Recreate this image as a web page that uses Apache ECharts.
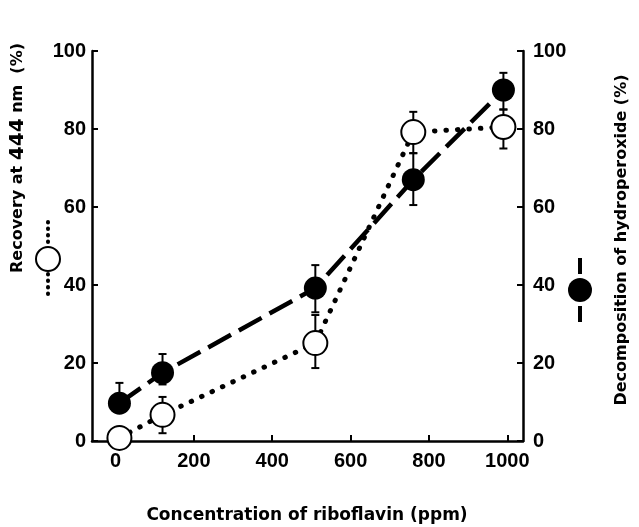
<!DOCTYPE html>
<html>
<head>
<meta charset="utf-8">
<script src="https://cdn.jsdelivr.net/npm/echarts@6/dist/echarts.min.js"></script>
<style>
  html, body { margin: 0; padding: 0; background: #fff; }
  #chart { width: 639px; height: 527px; }
</style>
</head>
<body>
<div id="chart"></div>
<script>
// riboflavin concentration (ppm)
var conc = [10, 120, 510, 760, 990];
// decomposition of hydroperoxide (%), filled circles, right axis
var hydro     = [9.7, 17.5, 39.2, 67.0, 90.0];
var hydroLow  = [9.7, 14.5, 33.0, 60.5, 85.0];
var hydroHigh = [14.9, 22.3, 45.1, 73.8, 94.4];
// recovery at 444 nm (%), open circles, left axis
var recovery = [0.8, 6.7, 25.1, 79.2, 80.5];
var recLow   = [0.8, 2.0, 18.7, 73.8, 75.0];
var recHigh  = [0.8, 11.3, 32.3, 84.4, 85.0];

var xTicks = [0, 200, 400, 600, 800, 1000];
var yTicks = [0, 20, 40, 60, 80, 100];

var tickFont = { color: '#000', fontSize: 20, fontWeight: 'bold', fontFamily: 'Liberation Sans',
                 formatter: function (v) { return String(v); } };

function pairs(xs, ys) {
    return xs.map(function (x, i) { return [x, ys[i]]; });
}
function bars(xs, lo, hi) {
    return xs.map(function (x, i) { return [x, lo[i], hi[i]]; });
}

function renderBar(params, api) {
    var lo = api.value(1), hi = api.value(2);
    if (lo === hi) return null;
    var top = api.coord([api.value(0), hi]);
    var bot = api.coord([api.value(0), lo]);
    var w = 4;
    var st = { stroke: '#000', lineWidth: 2 };
    return {
        type: 'group',
        children: [
            { type: 'line', shape: { x1: top[0], y1: top[1], x2: bot[0], y2: bot[1] }, style: st },
            { type: 'line', shape: { x1: top[0] - w, y1: top[1], x2: top[0] + w, y2: top[1] }, style: st },
            { type: 'line', shape: { x1: bot[0] - w, y1: bot[1], x2: bot[0] + w, y2: bot[1] }, style: st }
        ]
    };
}

var myChart = echarts.init(document.getElementById('chart'));
var option = {
    backgroundColor: '#fff',
    animation: false,
    grid: { left: 92, right: 116, top: 51, bottom: 86, outerBoundsMode: 'none' },
    xAxis: {
        type: 'value',
        min: -60,
        max: 1040,
        axisLine: { show: true, onZero: false, lineStyle: { color: '#000', width: 2.5 } },
        axisTick: { show: true, inside: true, length: 6, lineStyle: { color: '#000', width: 2 }, customValues: xTicks },
        axisLabel: Object.assign({ margin: 10, customValues: xTicks }, tickFont),
        splitLine: { show: false }
    },
    yAxis: [
        {
            type: 'value',
            min: yTicks[0], max: yTicks[yTicks.length - 1], interval: 20,
            position: 'left',
            axisLine: { show: true, onZero: false, lineStyle: { color: '#000', width: 2.5 } },
            axisTick: { show: true, inside: true, length: 6, lineStyle: { color: '#000', width: 2 } },
            axisLabel: Object.assign({ margin: 6 }, tickFont),
            splitLine: { show: false }
        },
        {
            type: 'value',
            min: yTicks[0], max: yTicks[yTicks.length - 1], interval: 20,
            position: 'right',
            axisLine: { show: true, onZero: false, lineStyle: { color: '#000', width: 2.5 } },
            axisTick: { show: true, inside: true, length: 6, lineStyle: { color: '#000', width: 2 } },
            axisLabel: Object.assign({ margin: 10 }, tickFont),
            splitLine: { show: false }
        }
    ],
    series: [
        {
            name: 'Recovery error',
            type: 'custom',
            yAxisIndex: 0,
            renderItem: renderBar,
            data: bars(conc, recLow, recHigh),
            z: 1
        },
        {
            name: 'Decomposition error',
            type: 'custom',
            yAxisIndex: 1,
            renderItem: renderBar,
            data: bars(conc, hydroLow, hydroHigh),
            z: 1
        },
        {
            name: 'Recovery at 444 nm',
            type: 'line',
            yAxisIndex: 0,
            data: pairs(conc, recovery),
            symbol: 'circle',
            symbolSize: 24,
            lineStyle: { color: '#000', width: 5, type: [0.5, 11], cap: 'round' },
            itemStyle: { color: '#fff', borderColor: '#000', borderWidth: 2 },
            z: 3
        },
        {
            name: 'Decomposition of hydroperoxide',
            type: 'line',
            yAxisIndex: 1,
            data: pairs(conc, hydro),
            symbol: 'circle',
            symbolSize: 23,
            lineStyle: { color: '#000', width: 4.5, type: [26, 9] },
            itemStyle: { color: '#000' },
            z: 4
        }
    ],
    graphic: [
        // left axis title
        {
            type: 'text', x: 18, y: 158, rotation: Math.PI / 2,
            style: {
                text: '{a|Recovery at }{b|444}{a| nm  (%)}',
                align: 'center', verticalAlign: 'middle',
                rich: {
                    a: { fontSize: 16, fontWeight: 'bold', fontFamily: 'DejaVu Sans', fill: '#000' },
                    b: { fontSize: 20, fontWeight: 'bold', fontFamily: 'DejaVu Sans', fill: '#000' }
                }
            }
        },
        // right axis title
        {
            type: 'text', x: 622, y: 240, rotation: Math.PI / 2,
            style: {
                text: 'Decomposition of hydroperoxide (%)',
                align: 'center', verticalAlign: 'middle',
                font: 'bold 16px "DejaVu Sans"', fill: '#000'
            }
        },
        // bottom axis title
        {
            type: 'text', x: 307, y: 516,
            style: {
                text: 'Concentration of riboflavin (ppm)',
                align: 'center', verticalAlign: 'middle',
                font: 'bold 17px "DejaVu Sans"', fill: '#000'
            }
        },
        // key next to left title: open circle with dotted line
        { type: 'line', shape: { x1: 48, y1: 222, x2: 48, y2: 244 }, style: { stroke: '#000', lineWidth: 4, lineDash: [0.5, 6], lineCap: 'round' } },
        { type: 'line', shape: { x1: 48, y1: 274, x2: 48, y2: 300 }, style: { stroke: '#000', lineWidth: 4, lineDash: [0.5, 6], lineCap: 'round' } },
        { type: 'circle', shape: { cx: 48, cy: 259, r: 12 }, style: { fill: '#fff', stroke: '#000', lineWidth: 2 } },
        // key next to right title: filled circle with dashes
        { type: 'line', shape: { x1: 580, y1: 258, x2: 580, y2: 274 }, style: { stroke: '#000', lineWidth: 4 } },
        { type: 'line', shape: { x1: 580, y1: 306, x2: 580, y2: 322 }, style: { stroke: '#000', lineWidth: 4 } },
        { type: 'circle', shape: { cx: 580, cy: 290, r: 12 }, style: { fill: '#000' } }
    ]
};
myChart.setOption(option);
</script>
</body>
</html>
